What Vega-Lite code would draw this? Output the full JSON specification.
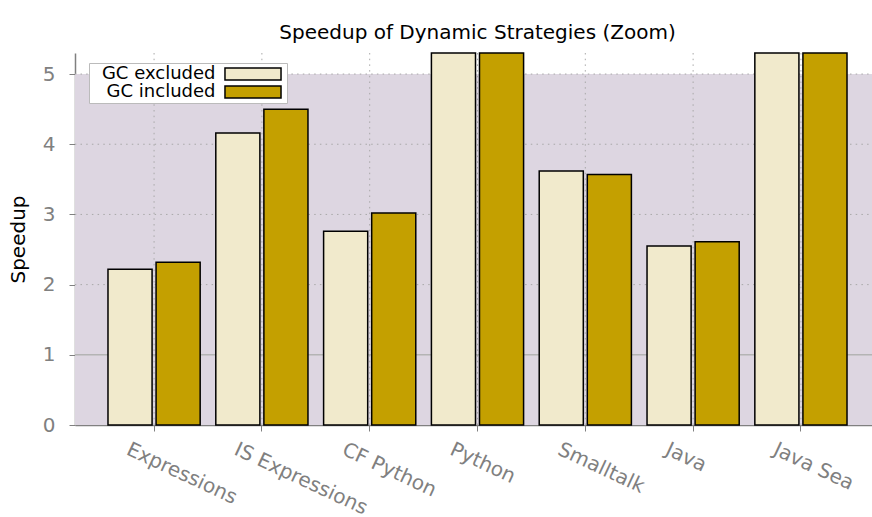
{
  "$schema": "https://vega.github.io/schema/vega-lite/v6.json",
  "width": 805,
  "height": 372,
  "autosize": "none",
  "padding": {"left": 75, "top": 53, "right": 0, "bottom": 92},
  "config": {
    "font": "DejaVu Sans",
    "view": {"stroke": null}
  },
  "title": {
    "text": "Speedup of Dynamic Strategies (Zoom)",
    "fontSize": 20,
    "fontWeight": "normal",
    "font": "DejaVu Sans",
    "color": "black",
    "anchor": "middle",
    "offset": 9
  },
  "layer": [
    {
      "data": {"values": [{"lo": 0, "hi": 5}]},
      "mark": {"type": "rect", "color": "#ddd6e1"},
      "encoding": {
        "y": {"field": "lo", "type": "quantitative"},
        "y2": {"field": "hi"},
        "x": {"value": 0},
        "x2": {"value": "width"}
      }
    },
    {
      "data": {"values": [{"g": 1}]},
      "mark": {"type": "rule", "color": "#b4b4b4", "strokeWidth": 1.5},
      "encoding": {"y": {"field": "g", "type": "quantitative"}}
    },
    {
      "data": {"values": [{"g": 2}, {"g": 3}, {"g": 4}, {"g": 5}]},
      "mark": {"type": "rule", "color": "#a8a8a8", "strokeWidth": 1, "strokeDash": [1.5, 4.2]},
      "encoding": {"y": {"field": "g", "type": "quantitative"}}
    },
    {
      "data": {"values": [
        {"benchmark": "Expressions"}, {"benchmark": "IS Expressions"}, {"benchmark": "CF Python"},
        {"benchmark": "Python"}, {"benchmark": "Smalltalk"}, {"benchmark": "Java"}, {"benchmark": "Java Sea"}
      ]},
      "mark": {"type": "rule", "color": "#a8a8a8", "strokeWidth": 1, "strokeDash": [1.5, 4.2]},
      "encoding": {"x": {"field": "benchmark", "type": "nominal", "bandPosition": 0.5}}
    },
    {
      "data": {"values": [
        {"benchmark": "Expressions", "gc": "GC excluded", "speedup": 2.22},
        {"benchmark": "Expressions", "gc": "GC included", "speedup": 2.32},
        {"benchmark": "IS Expressions", "gc": "GC excluded", "speedup": 4.16},
        {"benchmark": "IS Expressions", "gc": "GC included", "speedup": 4.5},
        {"benchmark": "CF Python", "gc": "GC excluded", "speedup": 2.76},
        {"benchmark": "CF Python", "gc": "GC included", "speedup": 3.02},
        {"benchmark": "Python", "gc": "GC excluded", "speedup": 5.3},
        {"benchmark": "Python", "gc": "GC included", "speedup": 5.3},
        {"benchmark": "Smalltalk", "gc": "GC excluded", "speedup": 3.62},
        {"benchmark": "Smalltalk", "gc": "GC included", "speedup": 3.57},
        {"benchmark": "Java", "gc": "GC excluded", "speedup": 2.55},
        {"benchmark": "Java", "gc": "GC included", "speedup": 2.61},
        {"benchmark": "Java Sea", "gc": "GC excluded", "speedup": 5.3},
        {"benchmark": "Java Sea", "gc": "GC included", "speedup": 5.3}
      ]},
      "mark": {"type": "bar", "stroke": "black", "strokeWidth": 1.5},
      "encoding": {
        "x": {
          "field": "benchmark",
          "type": "nominal",
          "scale": {
            "type": "band",
            "domain": ["Expressions", "IS Expressions", "CF Python", "Python", "Smalltalk", "Java", "Java Sea"],
            "paddingInner": 0.145,
            "paddingOuter": 0.306
          },
          "axis": {
            "title": null,
            "grid": false,
            "labelAngle": 25,
            "labelAlign": "left",
            "labelBaseline": "top",
            "labelOffset": -22,
            "labelPadding": 8,
            "labelFontSize": 20,
            "labelColor": "#808080",
            "tickColor": "#808080",
            "tickSize": 6,
            "domainColor": "#808080",
            "domainWidth": 1.5
          }
        },
        "xOffset": {
          "field": "gc",
          "type": "nominal",
          "scale": {"domain": ["GC excluded", "GC included"], "paddingInner": 0.083, "paddingOuter": 0}
        },
        "y": {
          "field": "speedup",
          "type": "quantitative",
          "scale": {"domain": [0, 5.3], "nice": false, "zero": true, "clamp": true},
          "axis": {
            "title": "Speedup",
            "titleFontSize": 20,
            "titleFontWeight": "normal",
            "titleColor": "black",
            "titlePadding": 14,
            "values": [0, 1, 2, 3, 4, 5],
            "format": "d",
            "grid": false,
            "labelFontSize": 20,
            "labelColor": "#808080",
            "labelPadding": 14,
            "tickColor": "#808080",
            "tickSize": 6,
            "domainColor": "#808080",
            "domainWidth": 1.5
          }
        },
        "fill": {
          "field": "gc",
          "type": "nominal",
          "scale": {"domain": ["GC excluded", "GC included"], "range": ["#f1eacc", "#c4a000"]},
          "legend": {
            "title": null,
            "orient": "none",
            "legendX": 14,
            "legendY": 10,
            "fillColor": "white",
            "strokeColor": "#bbbbbb",
            "padding": 2,
            "rowPadding": 0,
            "symbolType": "M-4.67,-1H4.67V1H-4.67Z",
            "symbolSize": 144,
            "symbolStrokeColor": "black",
            "symbolStrokeWidth": 1.5,
            "labelFontSize": 18,
            "labelColor": "black",
            "labelAlign": "right",
            "labelOffset": -46.5,
            "symbolOffset": 153
          }
        }
      }
    }
  ]
}
